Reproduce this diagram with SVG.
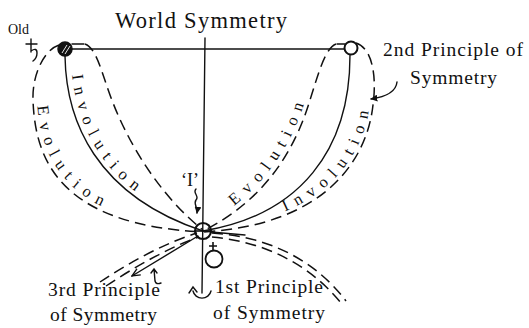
<svg xmlns="http://www.w3.org/2000/svg" width="529" height="328" viewBox="0 0 529 328">
<defs>
<style>
.ln{fill:none;stroke:#111;stroke-width:1.4;stroke-linecap:round}
.sl{fill:none;stroke:#111;stroke-width:1.3}
.ds{fill:none;stroke:#111;stroke-width:1.5;stroke-dasharray:11 6}
.t{font-family:"Liberation Serif","Times New Roman",serif;fill:#111}
.cv{font-family:"Liberation Serif","Times New Roman",serif;fill:#111;font-size:16.5px;letter-spacing:7.5px}
</style>
<marker id="ah" viewBox="0 0 10 10" refX="9" refY="5" markerWidth="9" markerHeight="9" orient="auto" markerUnits="userSpaceOnUse">
<path d="M0,1 L9,5 L0,9" fill="none" stroke="#111" stroke-width="1.5"/>
</marker>
<marker id="fh" viewBox="0 0 10 10" refX="9" refY="5" markerWidth="7" markerHeight="7" orient="auto" markerUnits="userSpaceOnUse">
<path d="M0,0 L10,5 L0,10 z" fill="#111"/>
</marker>
<path id="pInvL" d="M71,55 C 72,122 101,193 205,227"/>
<path id="pEvoL" d="M37,98 C 39,158 66,221 200,229"/>
<path id="pEvoR" d="M200,227 C 261,196 291,147 306,98 C 314,73 321,46 332,40"/>
<path id="pInvR" d="M207,228 C 322,221 364,158 370,103 C 372,85 371,65 362,50"/>
</defs>

<g id="title"><text class="t" x="115" y="28" font-size="22.5" textLength="172" lengthAdjust="spacing">World Symmetry</text></g>

<g id="connectors">
<path class="sl" d="M72,49 L344,49"/>
<path class="ln" d="M205,38 L202,293"/>
<path class="ln" d="M72,44 L84,44 M337,44 L345,44"/>
<path class="ln" d="M65,56 C 66,120 95,195 203,231"/>
<path class="ds" d="M59,45 C 44,50 32,75 33,100 C 35,160 60,225 203,232"/>
<path class="ds" d="M85,44 C 96,48 101,70 110,95 C 130,150 165,200 203,230"/>
<path class="ln" d="M350,55 C 350,150 300,215 203,231"/>
<path class="ds" d="M336,44 C 325,48 318,75 310,100 C 295,150 265,200 203,231"/>
<path class="ds" d="M356,43 C 372,48 377,75 373,105 C 367,160 325,225 203,232"/>
<path class="ds" d="M100,282 C 130,262 165,243 197,233"/>
<path class="ds" d="M106,286 C 136,266 170,247 199,237"/>
<path class="ds" d="M212,233 C 262,236 312,256 346,301"/>
<path class="ds" d="M212,237 C 258,241 306,260 341,303"/>
<path class="ln" d="M211,232 L245,235"/>
<path class="ln" d="M198,236 L132,276" marker-end="url(#ah)"/>
<path class="ln" d="M211,291 A 9.2,9 0 0 1 193,291"/>
<path class="ln" d="M189,293 L193,287 L197,292"/>
<path class="ln" d="M151,273 L154,269 L157,273 M154,269 L155,281 Q156,285 161,283"/>
<path class="ln" d="M397,82 C 396,92 385,97 371,99" marker-end="url(#fh)"/>
<path class="ln" d="M196,189 c -4,4 4,7 0,11 c -3,4 2,7 1,13" marker-end="url(#fh)"/>
</g>

<g id="node-old">
<circle cx="65" cy="49" r="7" fill="#111" stroke="#111" stroke-width="1.5"/>
<path d="M62,53 L67,45 M65,54 L70,46" stroke="#fff" stroke-width="0.9"/>
</g>
<g id="node-right"><circle cx="351" cy="48" r="6.5" fill="#fff" stroke="#111" stroke-width="2"/></g>
<g id="node-center">
<circle cx="203" cy="231" r="8" fill="none" stroke="#111" stroke-width="2.2"/>
<path d="M195,231 L211,231" stroke="#111" stroke-width="1.6"/>
</g>
<g id="node-earth">
<circle cx="214" cy="259" r="8.5" fill="none" stroke="#111" stroke-width="1.8"/>
<path d="M213,242 L213,250 M209,246 L217,246" stroke="#111" stroke-width="1.6"/>
</g>
<g id="saturn">
<path class="ln" d="M26,44 L37,44 M31,39 L31,52 M31,51 Q 37,47 37,53 Q 37,58 33,61"/>
</g>

<g id="labels">
<text class="t" x="8" y="34" font-size="14">Old</text>
<text class="t" x="383" y="56" font-size="19.5" textLength="140" lengthAdjust="spacing">2nd Principle of</text>
<text class="t" x="410" y="84" font-size="19.5" textLength="87" lengthAdjust="spacing">Symmetry</text>
<text class="t" x="48" y="296" font-size="19.5" textLength="112" lengthAdjust="spacing">3rd Principle</text>
<text class="t" x="50" y="321" font-size="19.5" textLength="107" lengthAdjust="spacing">of Symmetry</text>
<text class="t" x="215" y="293" font-size="19.5" textLength="108" lengthAdjust="spacing">1st Principle</text>
<text class="t" x="213" y="319" font-size="19.5" textLength="112" lengthAdjust="spacing">of Symmetry</text>
<text class="t" x="181" y="186" font-size="18">‘I’</text>
<text class="cv"><textPath href="#pInvL" startOffset="20">Involution</textPath></text>
<text class="cv"><textPath href="#pEvoL" startOffset="8">Evolution</textPath></text>
<text class="cv"><textPath href="#pEvoR" startOffset="40">Evolution</textPath></text>
<text class="cv"><textPath href="#pInvR" startOffset="80">Involution</textPath></text>
</g>
</svg>
